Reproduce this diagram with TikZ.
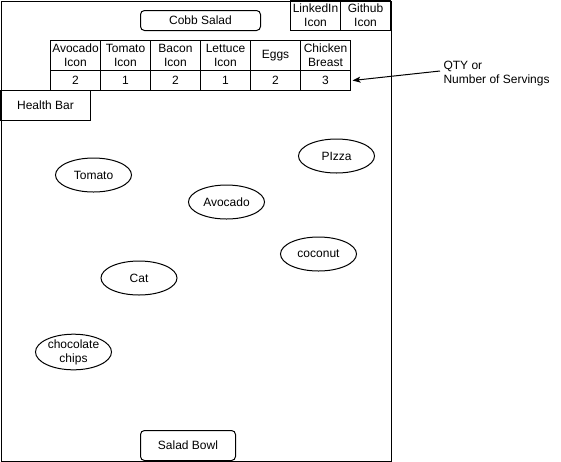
\documentclass[tikz,border=0pt]{standalone}
\usepackage{fontspec}
\setmainfont{Liberation Sans}
\usetikzlibrary{arrows.meta,shapes.geometric}
\tikzset{
  base/.style={line width=1pt, inner sep=0pt, align=center, font=\fontsize{12}{14}\selectfont},
  cell/.style={base, draw, minimum width=50pt},
  headcell/.style={cell, minimum height=30pt},
  qtycell/.style={cell, minimum height=20pt},
  rbox/.style={base, draw, rounded corners=4pt},
  food/.style={base, draw, ellipse, minimum width=76pt, minimum height=34pt},
  arr/.style={line width=1pt, -{Stealth[length=8pt,width=6pt,inset=2pt]}},
}
\begin{document}
\begin{tikzpicture}[x=1pt,y=-1pt]
\useasboundingbox (0,0) rectangle (561,461);
% main frame
\node[base, draw, minimum width=390pt, minimum height=460pt, anchor=north west] (frame) at (0.5,0.5) {};
% header
\node[rbox, minimum width=120pt, minimum height=20pt] (cobb) at (200.5,20.5) {Cobb Salad};
\node[headcell] (li) at (315.5,15.5) {LinkedIn\\Icon};
\node[headcell] (gh) at (365.5,15.5) {Github\\Icon};
% table
\node[headcell] (h1) at (75.5,55.5) {Avocado\\Icon};
\node[headcell] (h2) at (125.5,55.5) {Tomato\\Icon};
\node[headcell] (h3) at (175.5,55.5) {Bacon\\Icon};
\node[headcell] (h4) at (225.5,55.5) {Lettuce\\Icon};
\node[headcell] (h5) at (275.5,55.5) {Eggs};
\node[headcell] (h6) at (325.5,55.5) {Chicken\\Breast};
\node[qtycell] (q1) at (75.5,80.5) {2};
\node[qtycell] (q2) at (125.5,80.5) {1};
\node[qtycell] (q3) at (175.5,80.5) {2};
\node[qtycell] (q4) at (225.5,80.5) {1};
\node[qtycell] (q5) at (275.5,80.5) {2};
\node[qtycell] (q6) at (325.5,80.5) {3};
% health bar
\node[cell, minimum width=90pt, minimum height=30pt] (health) at (45.5,105.5) {Health Bar};
% annotation
\node[base, align=left, anchor=west] (qty) at (443,74) {QTY or\\Number of Servings};
\coordinate (qa) at (440,71);
\draw[arr] (qa) -- ([xshift=1.5pt]q6.east);
% foods
\node[food] (tomato) at (93.5,175) {Tomato};
\node[food] (pizza) at (336.5,156) {PIzza};
\node[food] (avocado) at (226.5,202) {Avocado};
\node[food] (coconut) at (318.5,254) {coconut};
\node[food] (cat) at (139,278) {Cat};
\node[food] (choc) at (73.5,352) {chocolate\\chips};
% bowl
\node[rbox, minimum width=95pt, minimum height=30pt] (bowl) at (188,445.5) {Salad Bowl};
\end{tikzpicture}
\end{document}
